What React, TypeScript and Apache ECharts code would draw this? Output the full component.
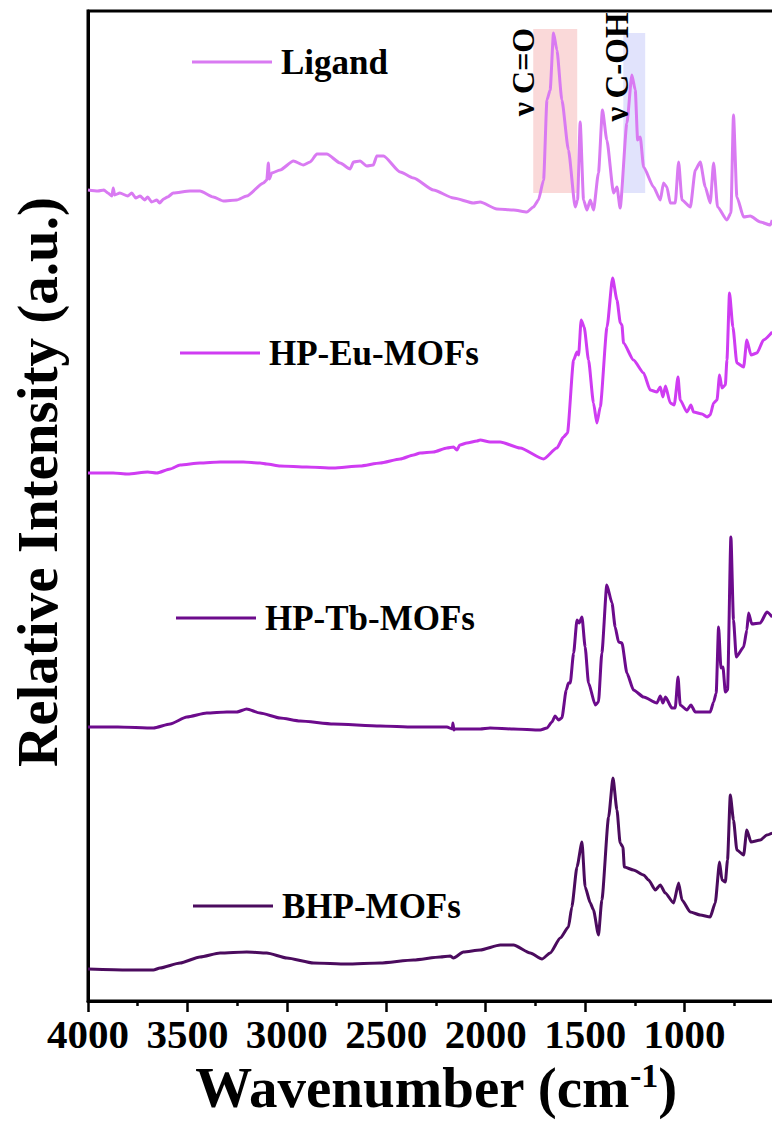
import React, { useEffect, useRef } from "react";
import * as echarts from "echarts";

// ---------- data (wavenumber cm-1, relative intensity a.u., offset-stacked) ----------
const seriesNames = ["Ligand", "HP-Eu-MOFs", "HP-Tb-MOFs", "BHP-MOFs"];
const seriesColors = ["#d97af2", "#cf3cf2", "#6c0b8c", "#4b0b5e"];

const ligand: [number, number][] = [
  [4000, 811], [3950, 810], [3920, 811], [3900, 808], [3880, 805], [3873, 813], [3866, 806], [3840, 808],
  [3800, 805], [3780, 808], [3760, 803], [3738, 805], [3715, 801], [3700, 804], [3680, 799],
  [3654, 801], [3640, 798], [3620, 802], [3600, 804], [3571, 808], [3487, 810], [3437, 810],
  [3370, 804], [3319, 800], [3252, 801], [3202, 805], [3118, 818], [3101, 821], [3093, 838],
  [3088, 822], [3076, 828], [3034, 831], [2967, 840], [2917, 836], [2883, 839], [2849, 847],
  [2799, 847], [2732, 838], [2682, 832], [2665, 839], [2632, 840], [2598, 835], [2565, 836],
  [2548, 845], [2514, 845], [2430, 829], [2363, 823], [2263, 811], [2162, 803], [2062, 798],
  [2028, 799], [1944, 792], [1860, 791], [1793, 789], [1760, 794], [1735, 801], [1709, 821],
  [1692, 901], [1676, 911], [1659, 968], [1642, 951], [1617, 901], [1584, 851], [1550, 794],
  [1538, 801], [1525, 879], [1508, 801], [1491, 791], [1474, 801], [1458, 791], [1433, 828],
  [1413, 891], [1391, 861], [1357, 808], [1340, 814], [1324, 793], [1290, 878], [1265, 926],
  [1248, 911], [1236, 861], [1223, 864], [1206, 834], [1156, 814], [1122, 801], [1106, 818],
  [1089, 814], [1072, 798], [1047, 798], [1030, 839], [1013, 801], [971, 794], [946, 831],
  [921, 839], [896, 814], [871, 798], [854, 838], [834, 794], [787, 781], [767, 788],
  [754, 886], [737, 804], [703, 784], [670, 785], [619, 779], [569, 776], [559, 781],
];

const hpEu: [number, number][] = [
  [4000, 528], [3873, 528], [3800, 527], [3700, 529], [3654, 528], [3587, 532], [3537, 536],
  [3437, 538], [3336, 539], [3219, 539], [3135, 538], [3101, 537], [3034, 535], [2900, 534],
  [2766, 533], [2632, 535], [2531, 538], [2430, 542], [2363, 546], [2330, 548], [2263, 549],
  [2195, 553], [2162, 554], [2145, 551], [2130, 556], [2095, 558], [2044, 560], [2028, 561],
  [1978, 559], [1927, 559], [1827, 553], [1709, 542], [1642, 553], [1609, 564], [1589, 568],
  [1558, 641], [1541, 649], [1533, 646], [1520, 681], [1505, 674], [1483, 641], [1458, 598],
  [1441, 578], [1424, 594], [1390, 674], [1362, 723], [1340, 701], [1323, 678], [1315, 676],
  [1307, 658], [1257, 641], [1206, 628], [1173, 611], [1139, 609], [1122, 614], [1109, 604],
  [1096, 615], [1072, 598], [1052, 596], [1033, 624], [1022, 601], [988, 589], [968, 596],
  [955, 589], [912, 587], [887, 584], [871, 586], [854, 598], [837, 601], [824, 626],
  [812, 613], [795, 616], [787, 641], [774, 708], [757, 674], [737, 638], [703, 634],
  [687, 661], [666, 646], [636, 648], [603, 661], [559, 669],
];

const hpTb: [number, number][] = [
  [4000, 274], [3850, 274], [3671, 273], [3587, 277], [3503, 284], [3403, 288], [3302, 289],
  [3252, 289], [3202, 292], [3135, 288], [3034, 283], [2933, 280], [2766, 277], [2531, 275],
  [2363, 274], [2195, 274], [2168, 272], [2165, 278], [2160, 271], [2154, 272], [2028, 272],
  [1978, 273], [1860, 272], [1726, 271], [1692, 273], [1667, 279], [1651, 285], [1634, 281],
  [1617, 283], [1595, 311], [1584, 318], [1575, 318], [1558, 348], [1541, 381], [1530, 378],
  [1516, 384], [1500, 354], [1483, 318], [1449, 296], [1433, 299], [1416, 348], [1391, 416],
  [1365, 398], [1349, 374], [1332, 359], [1315, 358], [1290, 328], [1257, 311], [1206, 304],
  [1139, 298], [1122, 305], [1109, 298], [1096, 304], [1064, 293], [1047, 293], [1033, 324],
  [1022, 296], [988, 291], [968, 296], [946, 289], [871, 289], [854, 299], [841, 308],
  [829, 374], [817, 333], [807, 334], [795, 309], [784, 311], [767, 464], [754, 381],
  [740, 344], [703, 354], [687, 371], [678, 388], [662, 377], [619, 378], [586, 389], [559, 384],
];

const bhp: [number, number][] = [
  [4000, 32], [3800, 31], [3671, 31], [3638, 33], [3537, 38], [3437, 44], [3336, 48],
  [3202, 49], [3101, 48], [3000, 43], [2866, 38], [2699, 37], [2531, 38], [2363, 41],
  [2229, 44], [2179, 45], [2162, 43], [2112, 49], [2028, 51], [1927, 56], [1860, 56],
  [1776, 48], [1717, 42], [1676, 48], [1625, 63], [1584, 74], [1567, 94], [1541, 134],
  [1516, 159], [1500, 114], [1474, 98], [1458, 91], [1433, 66], [1416, 101], [1382, 184],
  [1360, 223], [1340, 191], [1324, 158], [1310, 154], [1303, 134], [1257, 131], [1206, 126],
  [1181, 121], [1147, 111], [1122, 116], [1097, 108], [1055, 98], [1030, 118], [1013, 101],
  [971, 89], [921, 86], [871, 84], [846, 98], [824, 139], [812, 121], [795, 119],
  [784, 141], [770, 206], [754, 181], [737, 151], [703, 146], [687, 171], [666, 159],
  [619, 161], [586, 166], [559, 168],
];

const seriesData = [ligand, hpEu, hpTb, bhp];

// highlighted bands on the ligand spectrum: [from, to] wavenumber, [low, high] intensity
const bandCO = { wn: [1761, 1540], inten: [808, 972] };
const bandCOH = { wn: [1308, 1198], inten: [808, 968] };
const annotationCO = "ν C=O";
const annotationCOH = "ν C-OH";

const xMin = 500;
const xMax = 4000;
const xStep = 500;
const yMin = 0;
const yMax = 990;

// ---------- layout ----------
const FONT = "'Liberation Serif', 'Times New Roman', Times, serif";
const legendLeft = [192, 180, 176, 193];
const legendCenterY = [62, 353, 618, 906];
const VIEW_W = 772;
const VIEW_H = 1137;
const CHART_W = 784; // plot continues past the right edge of the picture (cropped)

export default function App() {
  const ref = useRef<HTMLDivElement>(null);

  useEffect(() => {
    document.body.style.margin = "0";
    if (!ref.current) return;
    const chart = echarts.init(ref.current, undefined, { renderer: "svg" });

    const legends = seriesNames.map((name, i) => ({
      data: [name],
      left: legendLeft[i],
      top: legendCenterY[i] - 20,
      padding: 0,
      icon: "rect",
      itemWidth: 80,
      itemHeight: 3,
      selectedMode: false,
      textStyle: {
        fontFamily: FONT,
        fontWeight: "bold",
        fontSize: 35,
        lineHeight: 40,
        color: "#000",
        padding: [0, 0, 0, 4],
      },
    }));

    const series: any[] = seriesNames.map((name, i) => ({
      name,
      type: "line",
      data: seriesData[i],
      symbol: "none",
      showSymbol: false,
      smooth: 0.2,
      smoothMonotone: "x",
      lineStyle: { width: 3, color: seriesColors[i] },
      itemStyle: { color: seriesColors[i] },
      emphasis: { disabled: true },
      z: 3,
    }));

    series[0].markArea = {
      silent: true,
      z: 1,
      data: [
        [
          { coord: [bandCO.wn[0], bandCO.inten[1]], itemStyle: { color: "rgba(244,170,170,0.45)" } },
          { coord: [bandCO.wn[1], bandCO.inten[0]] },
        ],
        [
          { coord: [bandCOH.wn[0], bandCOH.inten[1]], itemStyle: { color: "rgba(170,175,245,0.35)" } },
          { coord: [bandCOH.wn[1], bandCOH.inten[0]] },
        ],
      ],
    };

    chart.setOption({
      animation: false,
      backgroundColor: "#fff",
      grid: {
        left: 88,
        right: 0,
        top: 11,
        bottom: 136,
        show: true,
        borderColor: "#000",
        borderWidth: 3,
        backgroundColor: "transparent",
      },
      legend: legends,
      xAxis: {
        type: "value",
        min: xMin,
        max: xMax,
        interval: xStep,
        inverse: true,
        name: "Wavenumber (cm{sup|-1})",
        nameLocation: "middle",
        nameGap: 52,
        nameTextStyle: {
          fontFamily: FONT,
          fontWeight: "bold",
          fontSize: 57,
          color: "#000",
          rich: {
            sup: {
              fontFamily: FONT,
              fontWeight: "bold",
              fontSize: 34,
              color: "#000",
              verticalAlign: "top",
            },
          },
        },
        axisLine: { show: true, lineStyle: { color: "#000", width: 3 } },
        axisTick: { show: true, inside: false, length: 11, lineStyle: { color: "#000", width: 2.5 } },
        minorTick: { show: true, splitNumber: 2, length: 5, lineStyle: { color: "#000", width: 2.5 } },
        axisLabel: {
          showMinLabel: false,
          margin: 12,
          fontFamily: FONT,
          fontWeight: "bold",
          fontSize: 41,
          color: "#000",
          formatter: (v: number) => String(v),
        },
        splitLine: { show: false },
      },
      yAxis: {
        type: "value",
        min: yMin,
        max: yMax,
        name: "Relative Intensity (a.u.)",
        nameLocation: "middle",
        nameRotate: 90,
        nameGap: 22,
        nameTextStyle: {
          fontFamily: FONT,
          fontWeight: "bold",
          fontSize: 57,
          color: "#000",
          padding: [0, 0, 0, 48],
        },
        axisLine: { show: true, lineStyle: { color: "#000", width: 3 } },
        axisTick: { show: false },
        axisLabel: { show: false },
        splitLine: { show: false },
      },
      graphic: [
        {
          type: "text",
          x: 523,
          y: 72,
          rotation: Math.PI / 2,
          z: 10,
          style: {
            text: annotationCO,
            fontFamily: FONT,
            fontWeight: "bold",
            fontSize: 32,
            fill: "#000",
            align: "center",
            verticalAlign: "middle",
          },
        },
        {
          type: "text",
          x: 617,
          y: 67,
          rotation: Math.PI / 2,
          z: 10,
          style: {
            text: annotationCOH,
            fontFamily: FONT,
            fontWeight: "bold",
            fontSize: 33,
            fill: "#000",
            align: "center",
            verticalAlign: "middle",
          },
        },
      ],
      series,
    });

    return () => chart.dispose();
  }, []);

  return (
    <div style={{ width: VIEW_W, height: VIEW_H, overflow: "hidden", position: "relative" }}>
      <div ref={ref} style={{ width: CHART_W, height: VIEW_H }} />
    </div>
  );
}
